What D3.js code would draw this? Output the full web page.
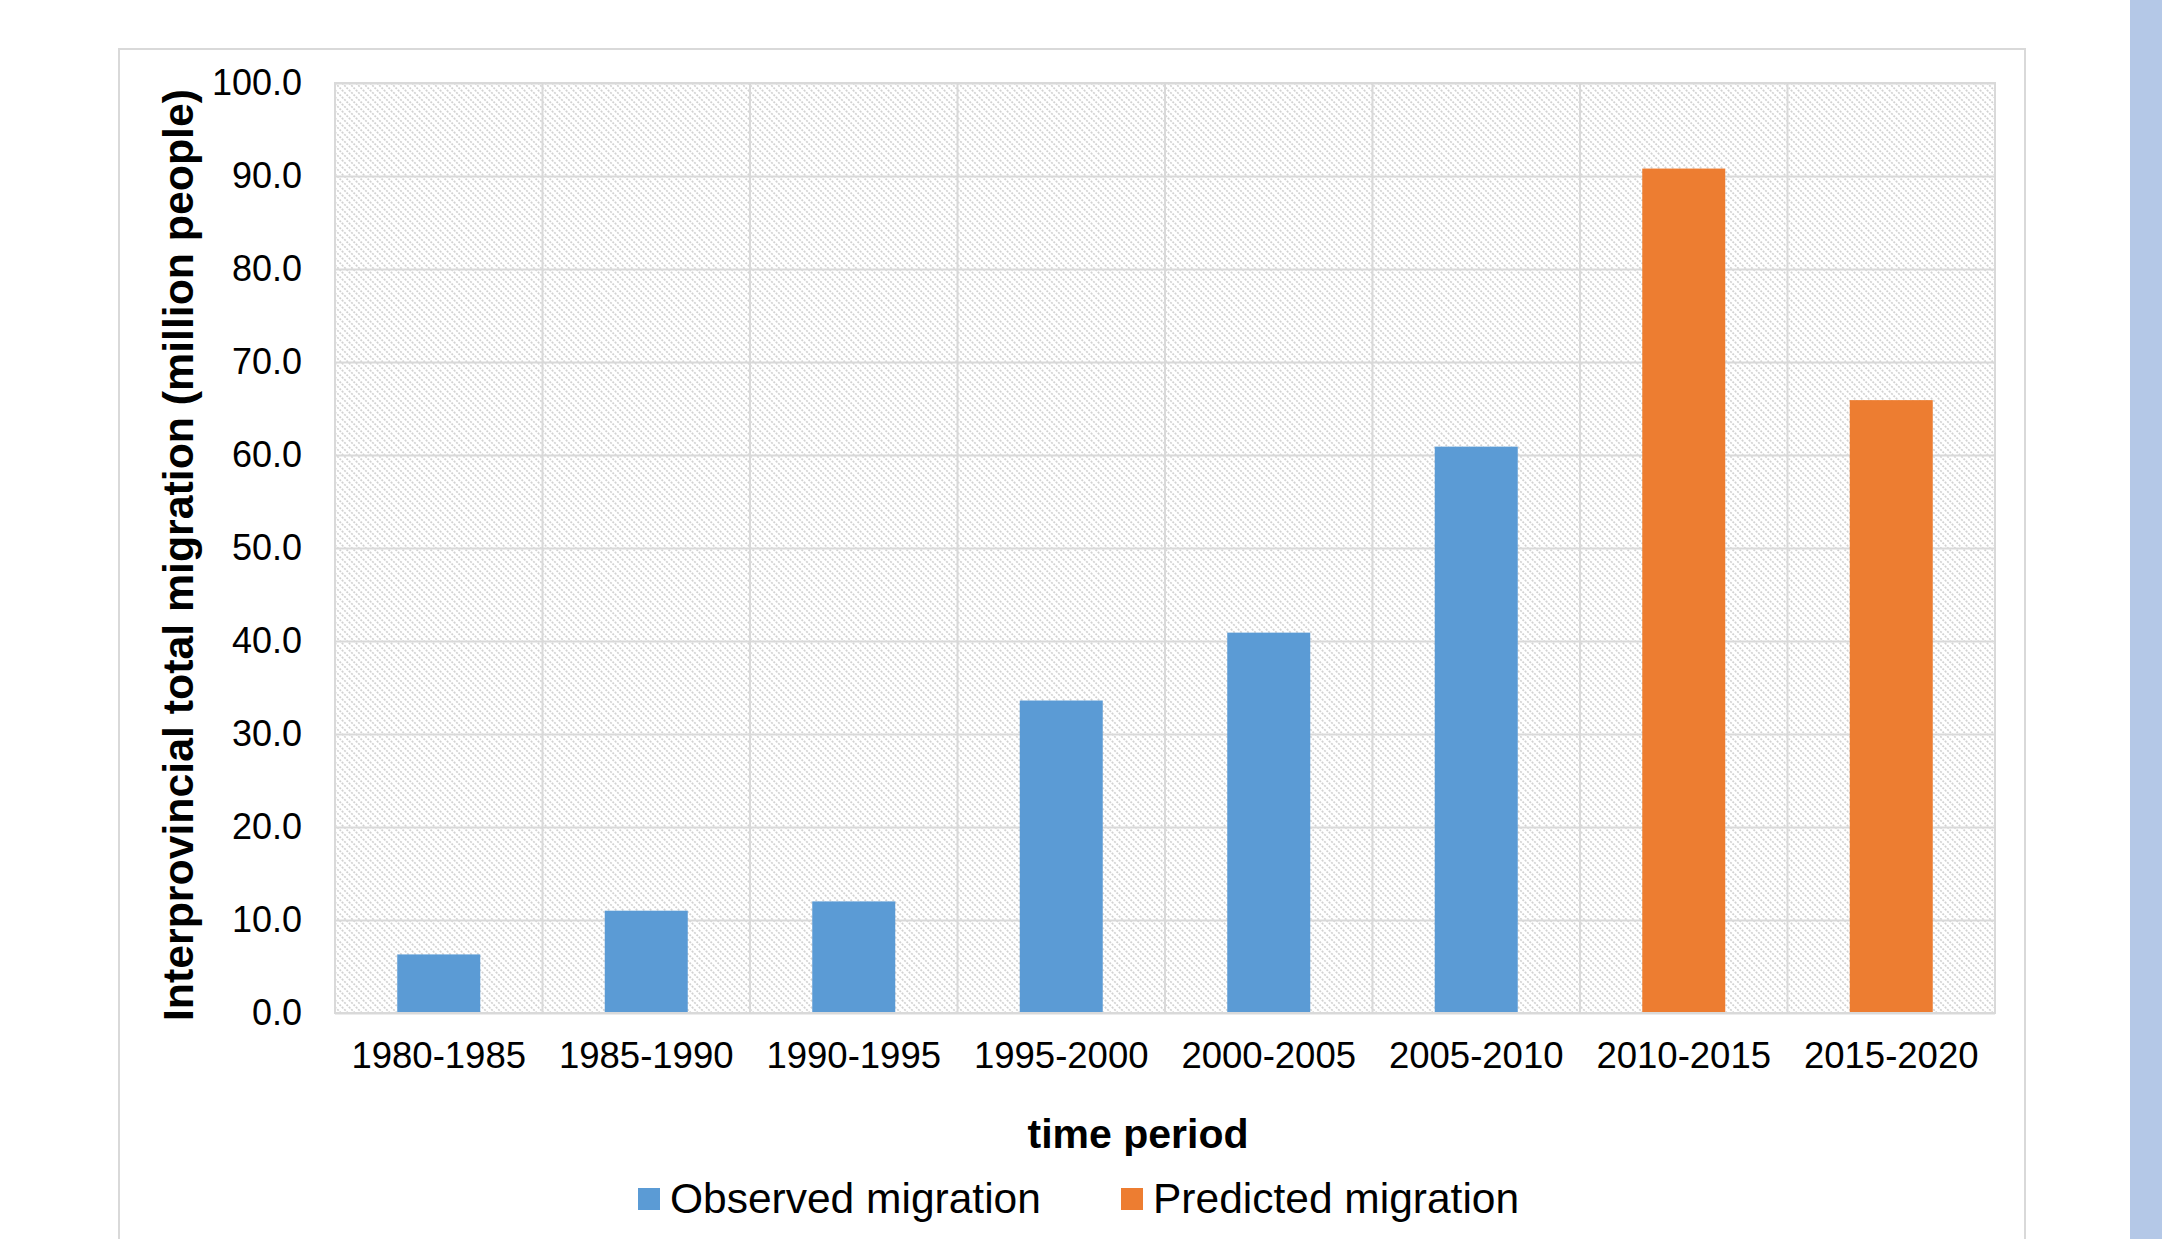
<!DOCTYPE html>
<html>
<head>
<meta charset="utf-8">
<script src="https://cdn.jsdelivr.net/npm/d3@7/dist/d3.min.js"></script>
<style>
  html, body { margin: 0; padding: 0; background: #fff; }
  svg { display: block; }
  text { font-family: "Liberation Sans", Arial, sans-serif; fill: #000; }
</style>
</head>
<body>
<svg id="chart" width="2162" height="1239"></svg>
<script>
// Five-year periods on the category axis
const periods = ["1980-1985", "1985-1990", "1990-1995", "1995-2000",
                 "2000-2005", "2005-2010", "2010-2015", "2015-2020"];
// Interprovincial migration, million people (null where the series has no bar)
const observed  = [6.3, 11.0, 12.0, 33.6, 40.9, 60.9, null, null];
const predicted = [null, null, null, null, null, null, 90.8, 65.9];
const yTicks = [0, 10, 20, 30, 40, 50, 60, 70, 80, 90, 100];
const seriesNames = ["Observed migration", "Predicted migration"];
const seriesColors = ["#5b9bd5", "#ed7d31"];

const svg = d3.select("#chart");
const W = 2162, H = 1239;
const plot = { left: 335, top: 83, right: 1995, bottom: 1013 };

// side strip and outer chart frame
svg.append("rect").attr("x", 2130).attr("y", 0).attr("width", W - 2130).attr("height", H)
  .attr("fill", "#b4c8e7");
svg.append("rect").attr("x", 119).attr("y", 49).attr("width", 2025 - 119).attr("height", H)
  .attr("fill", "#fff").attr("stroke", "#d9d9d9").attr("stroke-width", 2);

// diagonal hatch for the plot background
const defs = svg.append("defs");
const pat = defs.append("pattern").attr("id", "hatch").attr("patternUnits", "userSpaceOnUse")
  .attr("width", 7).attr("height", 7);
pat.append("rect").attr("width", 7).attr("height", 7).attr("fill", "#fff");
pat.append("path").attr("d", "M-1,-1 L8,8 M-8,-1 L1,8 M6,-1 L15,8")
  .attr("stroke", "#d2d2d2").attr("stroke-width", 1.7).attr("stroke-dasharray", "2,1.2");

const x = d3.scaleBand().domain(periods).range([plot.left, plot.right]).padding(0);
const xBar = d3.scaleBand().domain(periods).range([plot.left, plot.right])
  .paddingInner(0.6).paddingOuter(0.3);
const y = d3.scaleLinear().domain([0, 100]).range([plot.bottom, plot.top]);

svg.append("rect").attr("x", plot.left).attr("y", plot.top)
  .attr("width", plot.right - plot.left).attr("height", plot.bottom - plot.top)
  .attr("fill", "url(#hatch)");

// vertical gridlines at category boundaries
const bounds = periods.map(p => x(p)).concat([plot.right]);
svg.append("g").selectAll("line").data(bounds).join("line")
  .attr("x1", d => d).attr("x2", d => d).attr("y1", plot.top).attr("y2", plot.bottom)
  .attr("stroke", "#d9d9d9").attr("stroke-width", 2);

// y axis with horizontal gridlines
const yAxis = svg.append("g").attr("transform", `translate(${plot.left},0)`)
  .call(d3.axisLeft(y).tickValues(yTicks).tickFormat(d3.format(".1f"))
    .tickSizeInner(-(plot.right - plot.left)).tickSizeOuter(0).tickPadding(33));
yAxis.select(".domain").remove();
yAxis.selectAll(".tick line").attr("stroke", "#d9d9d9").attr("stroke-width", 2);
yAxis.selectAll(".tick text").style("font-size", "36px")
  .style("font-family", "'Liberation Sans', Arial, sans-serif").attr("fill", "#000");

// bars
const rows = periods.map((p, i) => ({ p, obs: observed[i], pred: predicted[i] }));
[["obs", 0], ["pred", 1]].forEach(([key, si]) => {
  svg.append("g").selectAll("rect").data(rows.filter(r => r[key] != null)).join("rect")
    .attr("x", d => xBar(d.p)).attr("width", xBar.bandwidth())
    .attr("y", d => y(d[key])).attr("height", d => y(0) - y(d[key]))
    .attr("fill", seriesColors[si]);
});

// plot frame
svg.append("rect").attr("x", plot.left).attr("y", plot.top)
  .attr("width", plot.right - plot.left).attr("height", plot.bottom - plot.top)
  .attr("fill", "none").attr("stroke", "#d9d9d9").attr("stroke-width", 2);

// x axis labels
const xAxis = svg.append("g").attr("transform", `translate(0,${plot.bottom})`)
  .call(d3.axisBottom(x).tickSize(0).tickPadding(29));
xAxis.select(".domain").remove();
xAxis.selectAll(".tick text").style("font-size", "36.5px")
  .style("font-family", "'Liberation Sans', Arial, sans-serif").attr("fill", "#000");

// axis titles
svg.append("text").attr("x", 1138).attr("y", 1148).attr("text-anchor", "middle")
  .style("font-size", "41px").style("font-weight", "bold").text("time period");
svg.append("text").attr("transform", `translate(193,${(plot.top + plot.bottom) / 2 + 7}) rotate(-90)`)
  .attr("text-anchor", "middle").style("font-size", "42.8px").style("font-weight", "bold")
  .text("Interprovincial total migration (million people)");

// legend
const legendX = [638, 1121];
const lg = svg.append("g").selectAll("g").data(seriesNames).join("g")
  .attr("transform", (d, i) => `translate(${legendX[i]},1188)`);
lg.append("rect").attr("width", 22).attr("height", 22).attr("fill", (d, i) => seriesColors[i]);
lg.append("text").attr("x", 32).attr("y", 25).style("font-size", "42.5px").text(d => d);
</script>
</body>
</html>
